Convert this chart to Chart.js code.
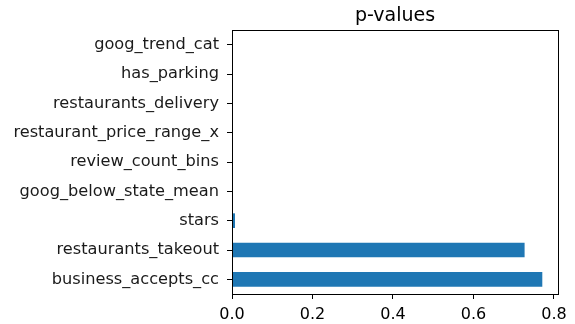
<!DOCTYPE html>
<html>
<head>
<meta charset="utf-8">
<script src="https://cdn.jsdelivr.net/npm/chart.js@4"></script>
<style>
  html, body { margin: 0; padding: 0; background: #fff; }
  canvas { display: block; }
</style>
</head>
<body>
<canvas id="pvalChart" width="575" height="324"></canvas>
<script>
// features, top to bottom
const features = [
  "goog_trend_cat",
  "has_parking",
  "restaurants_delivery",
  "restaurant_price_range_x",
  "review_count_bins",
  "goog_below_state_mean",
  "stars",
  "restaurants_takeout",
  "business_accepts_cc"
];
const pValues = [0.0002, 0.0002, 0.0001, 0.0003, 0.0002, 0.0004, 0.0075, 0.727, 0.771];
const xTicks = [0.0, 0.2, 0.4, 0.6, 0.8];
const chartTitle = "p-values";

const fontFamily = "'DejaVu Sans', sans-serif";

// draws the top and right spines, plus the title centred over the plot
const boxPlugin = {
  id: "box",
  afterDraw(chart) {
    const a = chart.chartArea;
    const ctx = chart.ctx;
    ctx.save();
    ctx.strokeStyle = "#000";
    ctx.lineWidth = 1;
    ctx.strokeRect(Math.round(a.left) + 0.5, Math.round(a.top) + 0.5,
      Math.round(a.right - a.left), Math.round(a.bottom - a.top));
    ctx.fillStyle = "#000";
    ctx.font = "19px " + fontFamily;
    ctx.textAlign = "center";
    ctx.textBaseline = "alphabetic";
    ctx.fillText(chartTitle, (a.left + a.right) / 2, a.top - 9);
    ctx.restore();
  }
};

new Chart(document.getElementById("pvalChart").getContext("2d"), {
  type: "bar",
  data: {
    labels: features,
    datasets: [{
      data: pValues,
      backgroundColor: "#1f77b4",
      barPercentage: 0.5,
      categoryPercentage: 1.0
    }]
  },
  options: {
    indexAxis: "y",
    responsive: false,
    animation: false,
    devicePixelRatio: 1,
    layout: { padding: { left: 0, right: 17, top: 30, bottom: 0 } },
    plugins: {
      legend: { display: false },
      tooltip: { enabled: false },
      title: { display: false }
    },
    scales: {
      x: {
        min: 0,
        max: 0.81,
        afterFit(scale) { scale.height = 30; },
        afterBuildTicks(scale) {
          scale.ticks = xTicks.map(v => ({ value: v }));
        },
        border: { display: true, color: "#000" },
        grid: { drawOnChartArea: false, drawTicks: true, tickLength: 5, color: "#000" },
        ticks: {
          color: "#000",
          padding: 6,
          font: { family: fontFamily, size: 16 },
          callback: v => Number(v).toFixed(1)
        }
      },
      y: {
        afterFit(scale) { scale.width = 232; },
        border: { display: true, color: "#000" },
        grid: { offset: false, drawOnChartArea: false, drawTicks: true, tickLength: 5, color: "#000" },
        ticks: {
          color: "#1a1a1a",
          padding: 8,
          font: { family: fontFamily, size: 16.2 }
        }
      }
    }
  },
  plugins: [boxPlugin]
});
</script>
</body>
</html>
